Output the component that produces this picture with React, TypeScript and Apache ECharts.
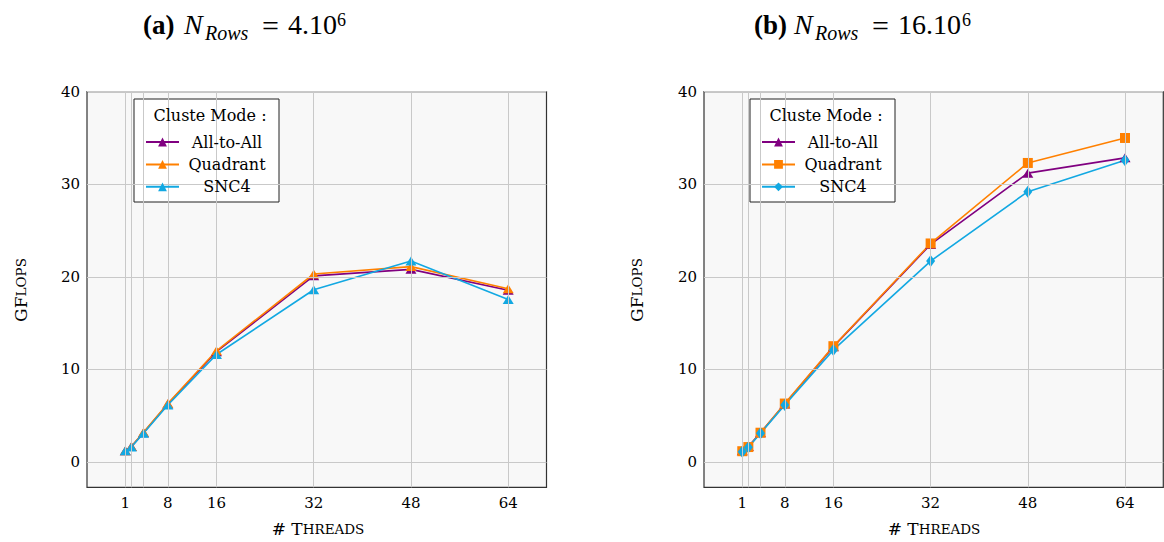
import React, { useEffect, useRef } from "react";
import * as echarts from "echarts";

const threads = [1, 2, 4, 8, 16, 32, 48, 64];
const xTickLabels = [1, 8, 16, 32, 48, 64];
const yTicks = [0, 10, 20, 30, 40];
const seriesNames = ["All-to-All", "Quadrant", "SNC4"];

const aAllToAll = [1.2, 1.65, 3.15, 6.25, 11.9, 20.1, 20.8, 18.55];
const aQuadrant = [1.2, 1.65, 3.2, 6.3, 12.0, 20.3, 21.1, 18.7];
const aSNC4 = [1.2, 1.6, 3.1, 6.15, 11.6, 18.6, 21.7, 17.55];

const bAllToAll = [1.2, 1.65, 3.15, 6.25, 12.45, 23.5, 31.2, 32.85];
const bQuadrant = [1.15, 1.6, 3.15, 6.3, 12.5, 23.6, 32.3, 35.0];
const bSNC4 = [1.1, 1.58, 3.1, 6.15, 12.1, 21.7, 29.2, 32.6];

const COLORS = ["#800080", "#FF8000", "#12A8E2"];
const FONT = "DejaVu Serif";
const FONT_TITLE = "Liberation Serif";

const pair = (vals: number[]) => threads.map((t, i) => [t, vals[i]]);

export default function App() {
  const ref = useRef<HTMLDivElement>(null);
  useEffect(() => {
    if (!ref.current) return;
    const chart = echarts.init(ref.current, undefined, { renderer: "svg" });

    const grids = [
      { left: 87, top: 91.7, width: 459.5, height: 395.6 },
      { left: 704, top: 91.7, width: 459.3, height: 395.6 },
    ];

    const xAxes = grids.map((_, gi) => ({
      type: "value",
      gridIndex: gi,
      min: -5.3,
      max: 70.3,
      axisLine: { show: false },
      splitLine: { show: false },
      axisTick: {
        show: true,
        inside: true,
        length: 5,
        customValues: threads,
        lineStyle: { color: "#777" },
      },
      axisLabel: {
        customValues: xTickLabels,
        fontFamily: FONT,
        fontSize: 15,
        color: "#000",
        margin: 8,
      },
    }));
    const yAxes = grids.map((_, gi) => ({
      type: "value",
      gridIndex: gi,
      min: -2.75,
      max: 40,
      axisLine: { show: false },
      splitLine: { show: false },
      axisTick: {
        show: true,
        inside: true,
        length: 5,
        customValues: yTicks,
        lineStyle: { color: "#777" },
      },
      axisLabel: {
        customValues: yTicks,
        fontFamily: FONT,
        fontSize: 15,
        color: "#000",
        margin: 7,
      },
    }));

    const gridLineSeries = (gi: number) => ({
      type: "line",
      name: "__grid" + gi,
      xAxisIndex: gi,
      yAxisIndex: gi,
      data: [],
      z: 1,
      silent: true,
      markLine: {
        silent: true,
        symbol: "none",
        label: { show: false },
        lineStyle: { color: "#c9c9c9", width: 1, type: "solid" },
        data: [
          ...threads.map((t) => ({ xAxis: t })),
          ...yTicks.map((v) => ({ yAxis: v })),
        ],
      },
    });

    const mk = (
      name: string,
      gi: number,
      vals: number[],
      color: string,
      symbol: string,
      size: any
    ) => ({
      type: "line",
      name,
      xAxisIndex: gi,
      yAxisIndex: gi,
      data: pair(vals),
      color,
      symbol,
      symbolSize: size,
      showSymbol: true,
      lineStyle: { width: 1.6, color },
      itemStyle: { color },
      z: 3,
    });

    const tri = [11, 9];
    const series = [
      gridLineSeries(0),
      gridLineSeries(1),
      mk("All-to-All", 0, aAllToAll, COLORS[0], "triangle", tri),
      mk("Quadrant", 0, aQuadrant, COLORS[1], "triangle", tri),
      mk("SNC4", 0, aSNC4, COLORS[2], "triangle", tri),
      mk("All-to-All (b)", 1, bAllToAll, COLORS[0], "triangle", tri),
      mk("Quadrant (b)", 1, bQuadrant, COLORS[1], "rect", 10),
      mk("SNC4 (b)", 1, bSNC4, COLORS[2], "diamond", [9, 12]),
    ];

    const legendBase = (left: number, names: string[]) => ({
      orient: "vertical",
      left,
      top: 129,
      itemWidth: 33,
      itemHeight: 11,
      itemGap: 6.4,
      z: 6,
      selectedMode: false,
      data: names,
      formatter: (n: string) => "{c|" + n.replace(" (b)", "") + "}",
      textStyle: {
        fontFamily: FONT,
        fontSize: 16,
        color: "#000",
        rich: {
          c: {
            fontFamily: FONT,
            fontSize: 16,
            lineHeight: 17,
            color: "#000",
            width: 86,
            align: "center",
          },
        },
      },
    });

    const legendBox = (x: number) => [
      {
        type: "rect",
        z: 5,
        shape: { x, y: 99, width: 145, height: 103 },
        style: { fill: "#fff", stroke: "#222", lineWidth: 1 },
      },
      {
        type: "text",
        z: 6,
        x: x + 76,
        y: 115,
        style: {
          text: "Cluste Mode :",
          fontFamily: FONT,
          fontSize: 16,
          fill: "#000",
          align: "center",
          verticalAlign: "middle",
        },
      },
    ];

    const title = (parts: any[]) =>
      parts.map((p) => ({
        type: "text",
        x: p.x,
        y: p.y,
        style: {
          text: p.t,
          fontFamily: FONT_TITLE,
          fontSize: p.size,
          fontWeight: p.bold ? "bold" : "normal",
          fontStyle: p.italic ? "italic" : "normal",
          fill: "#000",
          align: "left",
          verticalAlign: "middle",
        },
      }));

    const titleA = title([
      { t: "(a)", x: 143, y: 24.5, size: 27, bold: true },
      { t: "N", x: 184, y: 24.5, size: 28, italic: true },
      { t: "Rows", x: 205, y: 33, size: 20, italic: true },
      { t: "=", x: 262, y: 25, size: 30 },
      { t: "4.10", x: 288, y: 24.5, size: 28 },
      { t: "6", x: 337, y: 19.5, size: 18 },
    ]);
    const titleB = title([
      { t: "(b)", x: 754, y: 24.5, size: 27, bold: true },
      { t: "N", x: 794, y: 24.5, size: 28, italic: true },
      { t: "Rows", x: 815, y: 33, size: 20, italic: true },
      { t: "=", x: 872, y: 25, size: 30 },
      { t: "16.10", x: 898, y: 24.5, size: 28 },
      { t: "6", x: 962, y: 19.5, size: 18 },
    ]);

    const axisTitleRich = {
      b: { fontFamily: FONT, fontSize: 17, fill: "#000", color: "#000" },
      s: { fontFamily: FONT, fontSize: 13.5, fill: "#000", color: "#000" },
    };

    const xTitle = (cx: number) => ({
      type: "text",
      x: cx,
      y: 529,
      style: {
        text: "{b|# T}{s|HREADS}",
        rich: axisTitleRich,
        align: "center",
        verticalAlign: "middle",
      },
    });
    const yTitle = (cx: number) => ({
      type: "text",
      x: cx,
      y: 290,
      rotation: Math.PI / 2,
      style: {
        text: "{b|GF}{s|LOPS}",
        rich: axisTitleRich,
        align: "center",
        verticalAlign: "middle",
      },
    });

    chart.setOption({
      animation: false,
      backgroundColor: "#fff",
      grid: grids.map((g) => ({
        ...g,
        show: true,
        backgroundColor: "#f8f8f8",
        borderColor: "#333",
        borderWidth: 1.2,
        containLabel: false,
      })),
      xAxis: xAxes,
      yAxis: yAxes,
      legend: [
        legendBase(140, seriesNames),
        legendBase(756, seriesNames.map((n) => n + " (b)")),
      ],
      graphic: [
        ...legendBox(134),
        ...legendBox(750),
        ...titleA,
        ...titleB,
        xTitle(318),
        xTitle(934),
        yTitle(21),
        yTitle(637),
      ],
      series,
    });

    return () => chart.dispose();
  }, []);

  return (
    <div
      ref={ref}
      style={{
        position: "absolute",
        left: 0,
        top: 0,
        width: 1164,
        height: 542,
        background: "#fff",
      }}
    />
  );
}
